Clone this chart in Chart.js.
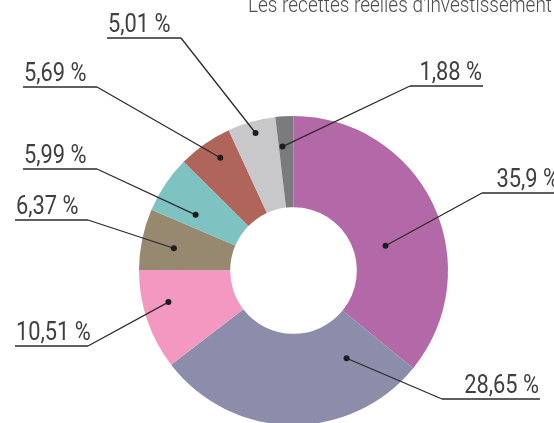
<!DOCTYPE html>
<html>
<head>
<meta charset="utf-8">
<script src="https://cdn.jsdelivr.net/npm/chart.js@4/dist/chart.umd.min.js"></script>
<style>
  html, body { margin: 0; padding: 0; background: #fff; overflow: hidden; }
  #wrap { position: relative; width: 554px; height: 430px; }
</style>
</head>
<body>
<div id="wrap"><canvas id="pie"></canvas></div>
<script>
// share of each item, % (clockwise from top)
const labels = ['35,9 %', '28,65 %', '10,51 %', '6,37 %', '5,99 %', '5,69 %', '5,01 %', '1,88 %'];
const values = [35.9, 28.65, 10.51, 6.37, 5.99, 5.69, 5.01, 1.88];
const colors = ['#b369a8', '#8c8dab', '#f399c1', '#978870', '#7ec2c1', '#b0655a', '#c8c8cb', '#7b7b7e'];
const title = "Les recettes réelles d'investissement";

// callouts: underline x0, x1, y, side of text, anchor (angle fraction, ring fraction)
const callouts = [
    { x0: 482, x1: 560, y: 193, side: 'right', a: 0.58, r: 0.35 },
    { x0: 442, x1: 540, y: 399, side: 'right', a: 0.19, r: 0.43 },
    { x0: 15, x1: 88, y: 346, side: 'left', a: 0.62, r: 0.72 },
    { x0: 15, x1: 88, y: 220, side: 'left', a: 0.45, r: 0.64 },
    { x0: 23, x1: 97, y: 169, side: 'left', a: 0.3, r: 0.54 },
    { x0: 23, x1: 97, y: 87, side: 'left', a: 0.6, r: 0.78 },
    { x0: 107, x1: 181, y: 38, side: 'left', a: 0.52, r: 0.87 },
    { x0: 410, x1: 483, y: 86, side: 'right', a: 0.25, r: 0.67 }
];

const FONT = 'Roboto, "Noto Sans", sans-serif';
const SQUEEZE = 0.84; // fake a condensed face

function narrowText(ctx, txt, x, y, align) {
    ctx.save();
    ctx.translate(x, y);
    ctx.scale(SQUEEZE, 1);
    ctx.textAlign = align;
    ctx.fillText(txt, 0, 0);
    ctx.restore();
}

const calloutPlugin = {
    id: 'callouts',
    afterDraw(chart) {
        const ctx = chart.ctx;
        const arcs = chart.getDatasetMeta(0).data;
        ctx.save();
        ctx.textBaseline = 'alphabetic';
        // title, clipped at the right edge as in the source
        ctx.fillStyle = '#4d4d4d';
        ctx.font = '300 22.6px ' + FONT;
        narrowText(ctx, title, 248, 12, 'left');

        arcs.forEach((arc, i) => {
            const c = callouts[i];
            const p = arc.getProps(['x', 'y', 'startAngle', 'endAngle', 'innerRadius', 'outerRadius'], true);
            const ang = p.startAngle + c.a * (p.endAngle - p.startAngle);
            const rad = p.innerRadius + c.r * (p.outerRadius - p.innerRadius);
            const dx = p.x + Math.cos(ang) * rad;
            const dy = p.y + Math.sin(ang) * rad;
            const jx = c.side === 'left' ? c.x1 : c.x0;

            ctx.strokeStyle = '#2b2b2b';
            ctx.lineWidth = 1.3;
            ctx.beginPath();
            ctx.moveTo(c.x0, c.y);
            ctx.lineTo(c.x1, c.y);
            ctx.moveTo(jx, c.y);
            ctx.lineTo(dx, dy);
            ctx.stroke();

            ctx.fillStyle = '#1e1e1e';
            ctx.beginPath();
            ctx.arc(dx, dy, 3, 0, Math.PI * 2);
            ctx.fill();

            ctx.fillStyle = '#404040';
            ctx.font = '400 26px ' + FONT;
            if (c.side === 'left') {
                narrowText(ctx, labels[i], c.x0 + 1, c.y - 6, 'left');
            } else {
                narrowText(ctx, labels[i], c.x1 - 1, c.y - 6, 'right');
            }
        });
        ctx.restore();
    }
};

new Chart(document.getElementById('pie'), {
    type: 'doughnut',
    data: {
        labels: labels,
        datasets: [{
            data: values,
            backgroundColor: colors,
            borderWidth: 0
        }]
    },
    options: {
        responsive: true,
        maintainAspectRatio: false,
        animation: false,
        cutout: '41%',
        layout: { padding: { left: 139, right: 106, top: 116, bottom: 5 } },
        plugins: {
            legend: { display: false },
            tooltip: { enabled: false },
            title: { display: false }
        }
    },
    plugins: [calloutPlugin]
});
</script>
</body>
</html>
